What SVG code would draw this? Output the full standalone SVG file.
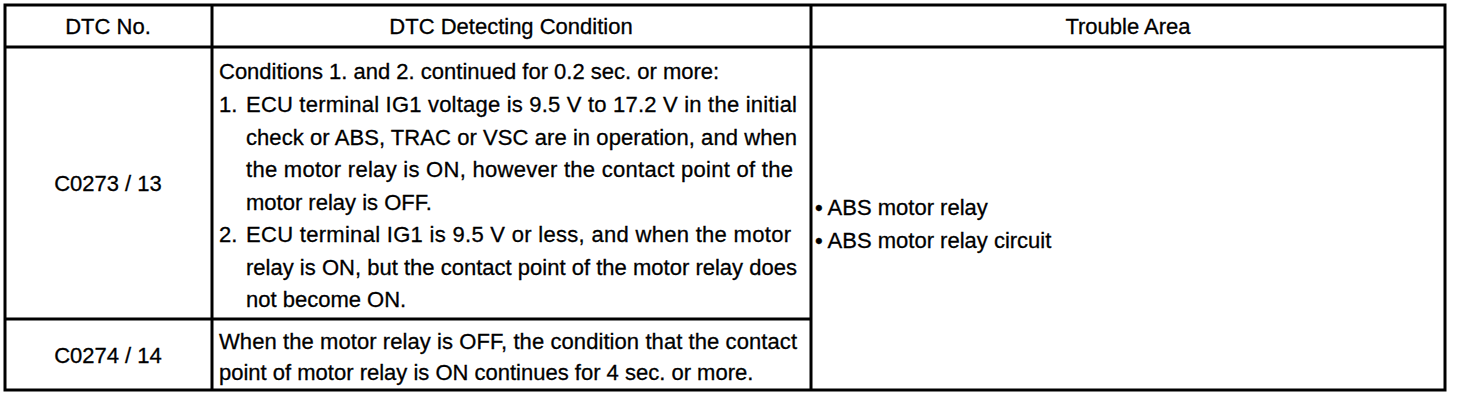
<svg xmlns="http://www.w3.org/2000/svg" width="1472" height="402" viewBox="0 0 1472 402">
<style>
.t{font-family:"Liberation Sans",Arial,Helvetica,sans-serif;font-size:22px;fill:#000;stroke:#000;stroke-width:0.3}
.c{text-anchor:middle}
.ln{stroke:#000;stroke-width:3;fill:none}
</style>
<rect width="1472" height="402" fill="#fff"/>
<g id="grid">
<rect class="ln" x="5" y="5" width="1440" height="385"/>
<line class="ln" x1="5" y1="47" x2="1445" y2="47"/>
<line class="ln" x1="212" y1="5" x2="212" y2="390"/>
<line class="ln" x1="811" y1="5" x2="811" y2="390"/>
<line class="ln" x1="5" y1="319" x2="811" y2="319"/>
</g>
<g id="header">
<text class="t c" x="108" y="34">DTC No.</text>
<text class="t c" x="511" y="34">DTC Detecting Condition</text>
<text class="t c" x="1128" y="34">Trouble Area</text>
</g>
<g id="dtc-c0273">
<text class="t c" x="108" y="191">C0273 / 13</text>
</g>
<g id="cond-c0273">
<text class="t" x="219" y="79">Conditions 1. and 2. continued for 0.2 sec. or more:</text>
<text class="t" x="219" y="112">1.</text>
<text class="t" x="246" y="112" textLength="551" lengthAdjust="spacing">ECU terminal IG1 voltage is 9.5 V to 17.2 V in the initial</text>
<text class="t" x="246" y="145" textLength="551" lengthAdjust="spacing">check or ABS, TRAC or VSC are in operation, and when</text>
<text class="t" x="246" y="177" textLength="547" lengthAdjust="spacing">the motor relay is ON, however the contact point of the</text>
<text class="t" x="246" y="210">motor relay is OFF.</text>
<text class="t" x="219" y="242">2.</text>
<text class="t" x="246" y="242" textLength="545" lengthAdjust="spacing">ECU terminal IG1 is 9.5 V or less, and when the motor</text>
<text class="t" x="246" y="275" textLength="551" lengthAdjust="spacing">relay is ON, but the contact point of the motor relay does</text>
<text class="t" x="246" y="307">not become ON.</text>
</g>
<g id="dtc-c0274">
<text class="t c" x="108" y="363">C0274 / 14</text>
</g>
<g id="cond-c0274">
<text class="t" x="219" y="349" textLength="578" lengthAdjust="spacing">When the motor relay is OFF, the condition that the contact</text>
<text class="t" x="219" y="380">point of motor relay is ON continues for 4 sec. or more.</text>
</g>
<g id="trouble-area">
<text class="t" x="815" y="215">• ABS motor relay</text>
<text class="t" x="815" y="248">• ABS motor relay circuit</text>
</g>
</svg>
